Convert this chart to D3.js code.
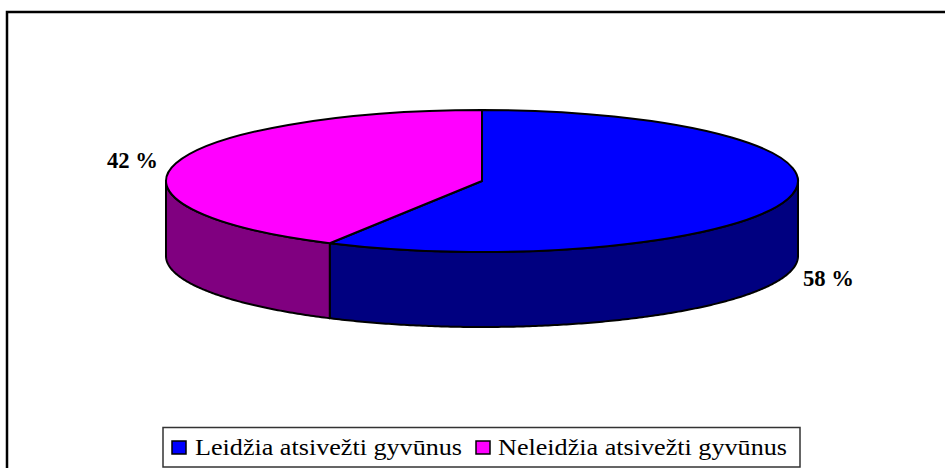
<!DOCTYPE html>
<html>
<head>
<meta charset="utf-8">
<script src="https://cdnjs.cloudflare.com/ajax/libs/d3/7.8.5/d3.min.js"></script>
<style>
body { margin: 0; background: #fff; overflow: hidden; }
svg { display: block; }
text { font-family: "Liberation Serif", serif; fill: #000; }
</style>
</head>
<body>
<svg width="945" height="468"></svg>
<script>
// data
var categories = ["Leidžia atsivežti gyvūnus", "Neleidžia atsivežti gyvūnus"];
var values = [58, 42];
var topColors = ["#0000ff", "#ff00ff"];
var sideColors = ["#000080", "#800080"];

var svg = d3.select("svg");

// outer frame, its right and bottom edges run off the picture
svg.append("rect")
    .attr("x", 7).attr("y", 12)
    .attr("width", 960).attr("height", 480)
    .attr("fill", "#fff").attr("stroke", "#000").attr("stroke-width", 2.5);

// tilted pie: the ellipse is a squashed circle
var cx = 482, cy = 181, rx = 316, ry = 71, depth = 75;

var slices = d3.pie().sort(null)(values);

var px = function(a) { return rx * Math.sin(a); };
var py = function(a) { return -ry * Math.cos(a); };

var canvas = svg.append("g")
    .attr("transform", "translate(" + cx + "," + cy + ")");

var side = d3.area()
    .x(function(a) { return px(a); })
    .y0(function(a) { return py(a); })
    .y1(function(a) { return py(a) + depth; });

// only the front half (90deg to 270deg) of the rim is visible
var frontAngles = function(s) {
    var from = Math.max(s.startAngle, Math.PI / 2),
        to = Math.min(s.endAngle, Math.PI * 3 / 2);
    var out = d3.range(from, to, 0.01);
    out.push(to);
    return out;
};

canvas.selectAll("path.side")
    .data(slices)
    .enter().append("path")
    .attr("class", "side")
    .attr("d", function(d) { return side(frontAngles(d)); })
    .attr("fill", function(d, i) { return sideColors[i]; })
    .attr("stroke", "#000")
    .attr("stroke-width", 2)
    .attr("stroke-linejoin", "round");

var arc = d3.arc().innerRadius(0).outerRadius(rx);

canvas.selectAll("path.top")
    .data(slices)
    .enter().append("path")
    .attr("class", "top")
    .attr("d", arc)
    .attr("transform", "scale(1," + (ry / rx) + ")")
    .attr("vector-effect", "non-scaling-stroke")
    .attr("fill", function(d, i) { return topColors[i]; })
    .attr("stroke", "#000")
    .attr("stroke-width", 2)
    .attr("stroke-linejoin", "round");

// percent labels
var labelPos = [[803, 286], [107, 168]];
svg.selectAll("text.pct")
    .data(values)
    .enter().append("text")
    .attr("class", "pct")
    .attr("x", function(d, i) { return labelPos[i][0]; })
    .attr("y", function(d, i) { return labelPos[i][1]; })
    .attr("font-size", 23)
    .attr("font-weight", "bold")
    .attr("textLength", 51)
    .attr("lengthAdjust", "spacingAndGlyphs")
    .text(function(d) { return d + " %"; });

// legend
var legend = svg.append("g");
legend.append("rect")
    .attr("x", 163).attr("y", 427.5)
    .attr("width", 637).attr("height", 39.5)
    .attr("fill", "#fff").attr("stroke", "#333").attr("stroke-width", 1.5);

var keyX = [172, 476];
var textX = [195, 498];
var textLen = [267, 289];
legend.selectAll("rect.key")
    .data(categories)
    .enter().append("rect")
    .attr("class", "key")
    .attr("x", function(d, i) { return keyX[i]; })
    .attr("y", 441)
    .attr("width", 14).attr("height", 13)
    .attr("fill", function(d, i) { return topColors[i]; })
    .attr("stroke", "#000").attr("stroke-width", 1.5);

legend.selectAll("text.name")
    .data(categories)
    .enter().append("text")
    .attr("class", "name")
    .attr("x", function(d, i) { return textX[i]; })
    .attr("y", 455)
    .attr("font-size", 24)
    .attr("textLength", function(d, i) { return textLen[i]; })
    .attr("lengthAdjust", "spacingAndGlyphs")
    .text(function(d) { return d; });
</script>
</body>
</html>
